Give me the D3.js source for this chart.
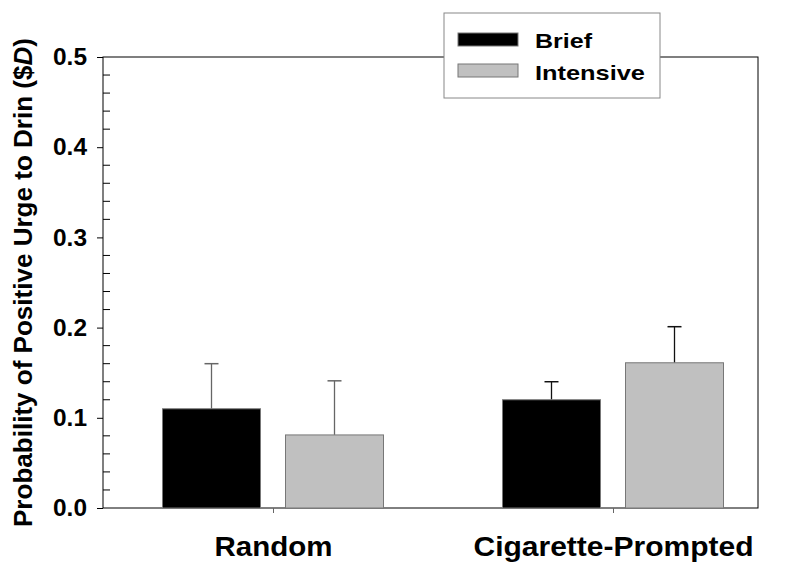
<!DOCTYPE html>
<html>
<head>
<meta charset="utf-8">
<script src="https://cdn.jsdelivr.net/npm/d3@7"></script>
<style>
  body { margin: 0; background: #fff; }
  text { font-family: "Liberation Sans", Arial, sans-serif; font-weight: bold; }
</style>
</head>
<body>
<div id="chart"></div>
<script>
// data
const categories = ["Random", "Cigarette-Prompted"];
const series = ["Brief", "Intensive"];
const briefMeans = [0.11, 0.12];
const briefSD = [0.05, 0.02];
const intensiveMeans = [0.081, 0.161];
const intensiveSD = [0.06, 0.04];
const yTicks = [0, 0.1, 0.2, 0.3, 0.4, 0.5];
const colors = ["#000000", "#c0c0c0"];
const errColors = ["#666666", "#111111"];

const W = 800, H = 569;
const plotL = 103, plotR = 758, plotT = 57, plotB = 508;

const svg = d3.select("#chart").append("svg")
    .attr("width", W).attr("height", H);

const y = d3.scaleLinear().domain([0, 0.5]).range([plotB, plotT]);
// group centres
const x = d3.scalePoint().domain(categories).range([273, 613]);
const barW = 98, gap = 25;

const data = [];
categories.forEach((c, i) => {
    data.push({ cat: c, s: 0, v: briefMeans[i], sd: briefSD[i], ci: i });
    data.push({ cat: c, s: 1, v: intensiveMeans[i], sd: intensiveSD[i], ci: i });
});
const barX = d => d.s === 0 ? x(d.cat) - gap / 2 - barW : x(d.cat) + gap / 2;

// frame
svg.append("rect")
    .attr("x", plotL).attr("y", plotT)
    .attr("width", plotR - plotL).attr("height", plotB - plotT)
    .attr("fill", "none").attr("stroke", "#000").attr("stroke-width", 1);

// error bars (drawn first so bar covers lower half)
svg.selectAll(".err")
    .data(data)
    .join("g")
    .each(function(d) {
        const g = d3.select(this);
        const cx = barX(d) + barW / 2;
        g.append("line")
            .attr("x1", cx).attr("x2", cx)
            .attr("y1", y(d.v)).attr("y2", y(d.v + d.sd))
            .attr("stroke", errColors[d.ci]).attr("stroke-width", 1.3);
        g.append("line")
            .attr("x1", cx - 7).attr("x2", cx + 7)
            .attr("y1", y(d.v + d.sd)).attr("y2", y(d.v + d.sd))
            .attr("stroke", errColors[d.ci]).attr("stroke-width", 1.5);
    });

// bars
svg.selectAll(".bar")
    .data(data)
    .join("rect")
    .attr("x", barX)
    .attr("y", d => y(d.v))
    .attr("width", barW)
    .attr("height", d => y(0) - y(d.v))
    .attr("fill", d => colors[d.s])
    .attr("stroke", "#777")
    .attr("stroke-width", 1);

// y axis: major ticks outside, minor inside
const yAxis = svg.append("g").attr("transform", `translate(${plotL},0)`);
yAxis.call(d3.axisLeft(y).tickValues(yTicks).tickFormat(d3.format(".1f")).tickSize(6).tickPadding(10))
    .call(g => g.select(".domain").remove())
    .call(g => g.selectAll("text").attr("font-size", 24).attr("fill", "#000")
        .attr("textLength", 34).attr("lengthAdjust", "spacingAndGlyphs")
        .style("font-family", "'Liberation Sans', Arial, sans-serif").style("font-weight", "bold"));
const minor = d3.range(0, 0.501, 0.02).filter(v => Math.abs(v * 10 - Math.round(v * 10)) > 1e-6);
yAxis.selectAll(".minor")
    .data(minor)
    .join("line")
    .attr("x1", 0).attr("x2", 7)
    .attr("y1", d => y(d)).attr("y2", d => y(d))
    .attr("stroke", "#000");

// x axis
const xLabelLen = { "Random": 118, "Cigarette-Prompted": 280 };
const xAxis = svg.append("g").attr("transform", `translate(0,${plotB})`);
xAxis.call(d3.axisBottom(x).tickSize(5).tickPadding(23))
    .call(g => g.select(".domain").remove())
    .call(g => g.selectAll(".tick line").attr("stroke", "#666"))
    .call(g => g.selectAll("text").attr("font-size", 28).attr("fill", "#000")
        .attr("textLength", d => xLabelLen[d]).attr("lengthAdjust", "spacingAndGlyphs")
        .style("font-family", "'Liberation Sans', Arial, sans-serif").style("font-weight", "bold"));

// y axis title
const yt = svg.append("text")
    .attr("transform", `translate(32,${(38 + 527) / 2}) rotate(-90)`)
    .attr("text-anchor", "middle")
    .attr("font-size", 25)
    .attr("textLength", 489).attr("lengthAdjust", "spacingAndGlyphs");
yt.append("tspan").text("Probability of Positive Urge to Drin ($");
yt.append("tspan").attr("font-style", "italic").text("D");
yt.append("tspan").text(")");

// legend
const legLen = [57, 110];
const leg = svg.append("g");
leg.append("rect")
    .attr("x", 444).attr("y", 13).attr("width", 216).attr("height", 85)
    .attr("fill", "#fff").attr("stroke", "#888").attr("stroke-width", 1);
series.forEach((s, i) => {
    leg.append("rect")
        .attr("x", 458).attr("y", 33 + i * 31).attr("width", 60).attr("height", 13)
        .attr("fill", colors[i]).attr("stroke", "#777");
    leg.append("text")
        .attr("x", 535).attr("y", 48 + i * 32)
        .attr("font-size", 21)
        .attr("textLength", legLen[i]).attr("lengthAdjust", "spacingAndGlyphs")
        .text(s);
});
</script>
</body>
</html>
